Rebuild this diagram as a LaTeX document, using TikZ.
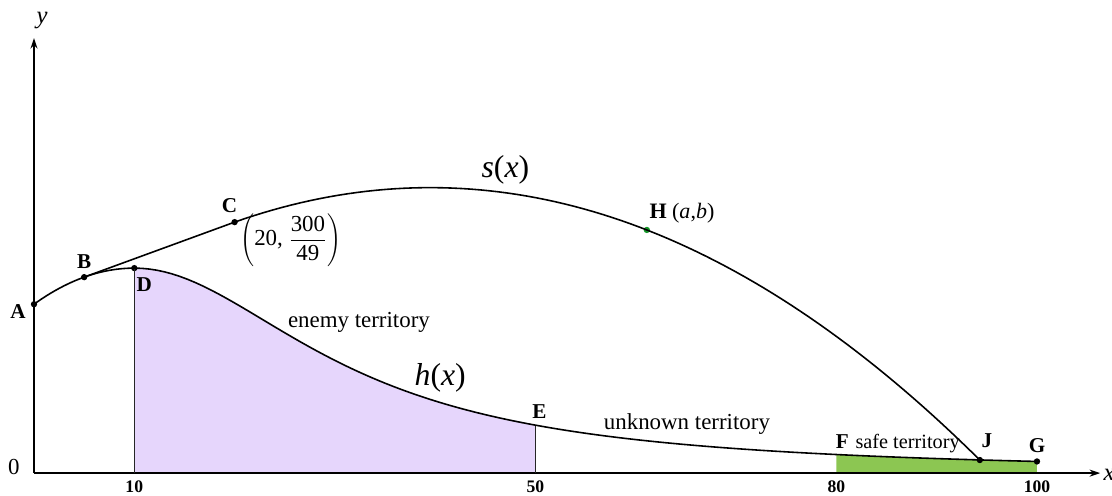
\documentclass[tikz,border=0pt]{standalone}
\usepackage{fontspec}
\setmainfont{Liberation Serif}
\usetikzlibrary{arrows.meta}

\definecolor{enemyfill}{RGB}{230,214,252}
\definecolor{safefill}{RGB}{140,198,82}
\definecolor{hgreen}{RGB}{20,150,40}

\begin{document}
\begin{tikzpicture}[x=0.2cm, y=0.8175cm,
    declare function={hl(\t)=5-0.0088*(\t-10)^2;
        hr(\t)=5/(1+((\t-10)/22.1)^2);
        sp(\t)=6.963-0.002212*(\t-39.5)^2;},
    curve/.style={line width=0.9pt, black},
    axis/.style={line width=0.8pt, black, -{Stealth[length=6pt,width=4pt]}},
    dot/.style={circle, fill=black, inner sep=0pt, minimum size=3.6pt},
    ptlabel/.style={font=\fontsize{12}{14}\selectfont\bfseries, inner sep=0pt},
    ticklabel/.style={font=\fontsize{10}{12}\selectfont\bfseries, inner sep=0pt},
    region/.style={font=\fontsize{13}{15}\selectfont, inner sep=0pt},
    fnlabel/.style={font=\fontsize{18}{20}\selectfont, inner sep=0pt}]
        \useasboundingbox (-3.39,-0.537) rectangle (107.48,11.54);

        % territories
        \fill [enemyfill] (10,0) -- plot [domain=10:50, samples=60] (\x,{hr(\x)}) -- (50,0) -- cycle;
        \fill [safefill] (80,0) -- plot [domain=80:100, samples=30] (\x,{hr(\x)}) -- (100,0) -- cycle;

        % axes
        \draw [axis] (0,0) -- (0,10.61);
        \draw [axis] (0,0) -- (106.3,0);
        \node [font=\fontsize{14}{16}\selectfont\itshape] (ylab) at (0.8,11.05) {y};
        \node [font=\fontsize{14}{16}\selectfont\itshape] (xlab) at (107.2,-0.05) {x};
        \node [font=\fontsize{13}{15}\selectfont] (zero) at (-2.0,0.15) {0};

        % points
        \node [dot] (A) at (0,{hl(0)}) {};
        \node [dot] (B) at (5,{hl(5)}) {};
        \node [dot] (C) at (20,{sp(20)}) {};
        \node [dot] (D) at (10,5) {};
        \node [dot, fill=hgreen] (H) at (61.1,{sp(61.1)}) {};
        \coordinate (E) at (50,{hr(50)});
        \coordinate (F) at (80,{hr(80)});
        \node [dot] (J) at (94.3,{sp(94.3)}) {};
        \node [dot] (G) at (100,{hr(100)}) {};

        % boundaries of enemy territory
        \draw [line width=0.7pt, black!85] (10,0) -- (D.center);
        \draw [line width=0.7pt, black!85] (50,0) -- (E);

        % h(x)
        \draw [curve] plot [domain=0:10, samples=25] (\x,{hl(\x)})
            -- plot [domain=10:100, samples=120] (\x,{hr(\x)});
        % s(x)
        \draw [curve] (B.center) -- (C.center)
            -- plot [domain=20:94.3, samples=80] (\x,{sp(\x)});

        % point labels
        \node [ptlabel] (Alab) at (-1.6,3.93) {A};
        \node [ptlabel] (Blab) at (5.0,5.15) {B};
        \node [ptlabel] (Clab) at (19.5,6.52) {C};
        \node [ptlabel] (Dlab) at (11.0,4.59) {D};
        \node [ptlabel] (Elab) at (50.4,1.51) {E};
        \node [ptlabel] (Flab) at (80.6,0.78) {F};
        \node [ptlabel] (Jlab) at (95.0,0.78) {J};
        \node [ptlabel] (Glab) at (100,0.68) {G};
        \node [font=\fontsize{12.5}{14}\selectfont, inner sep=0pt] (Hlab) at (64.6,6.34)
            {\textbf{H} (\textit{a},\textit{b})};
        \node [font=\fontsize{13}{15}\selectfont, inner sep=0pt] (Ccoord) at (25.6,5.68)
            {$\displaystyle\left(\mbox{20, }\frac{\mbox{300}}{\mbox{49}}\right)$};

        % function and region labels
        \node [fnlabel] (slab) at (47.0,7.39) {\textit{s}(\textit{x})};
        \node [fnlabel] (hlab) at (40.5,2.32) {\textit{h}(\textit{x})};
        \node [region] (enemy) at (32.4,3.68) {enemy territory};
        \node [region] (unknown) at (65.1,1.2) {unknown territory};
        \node [font=\fontsize{11.5}{13}\selectfont, inner sep=0pt] (safe) at (87.1,0.73) {safe territory};

        % ticks
        \node [ticklabel] (t10) at (10,-0.33) {10};
        \node [ticklabel] (t50) at (50,-0.33) {50};
        \node [ticklabel] (t80) at (80,-0.33) {80};
        \node [ticklabel] (t100) at (100,-0.33) {100};
    \end{tikzpicture}
\end{document}
